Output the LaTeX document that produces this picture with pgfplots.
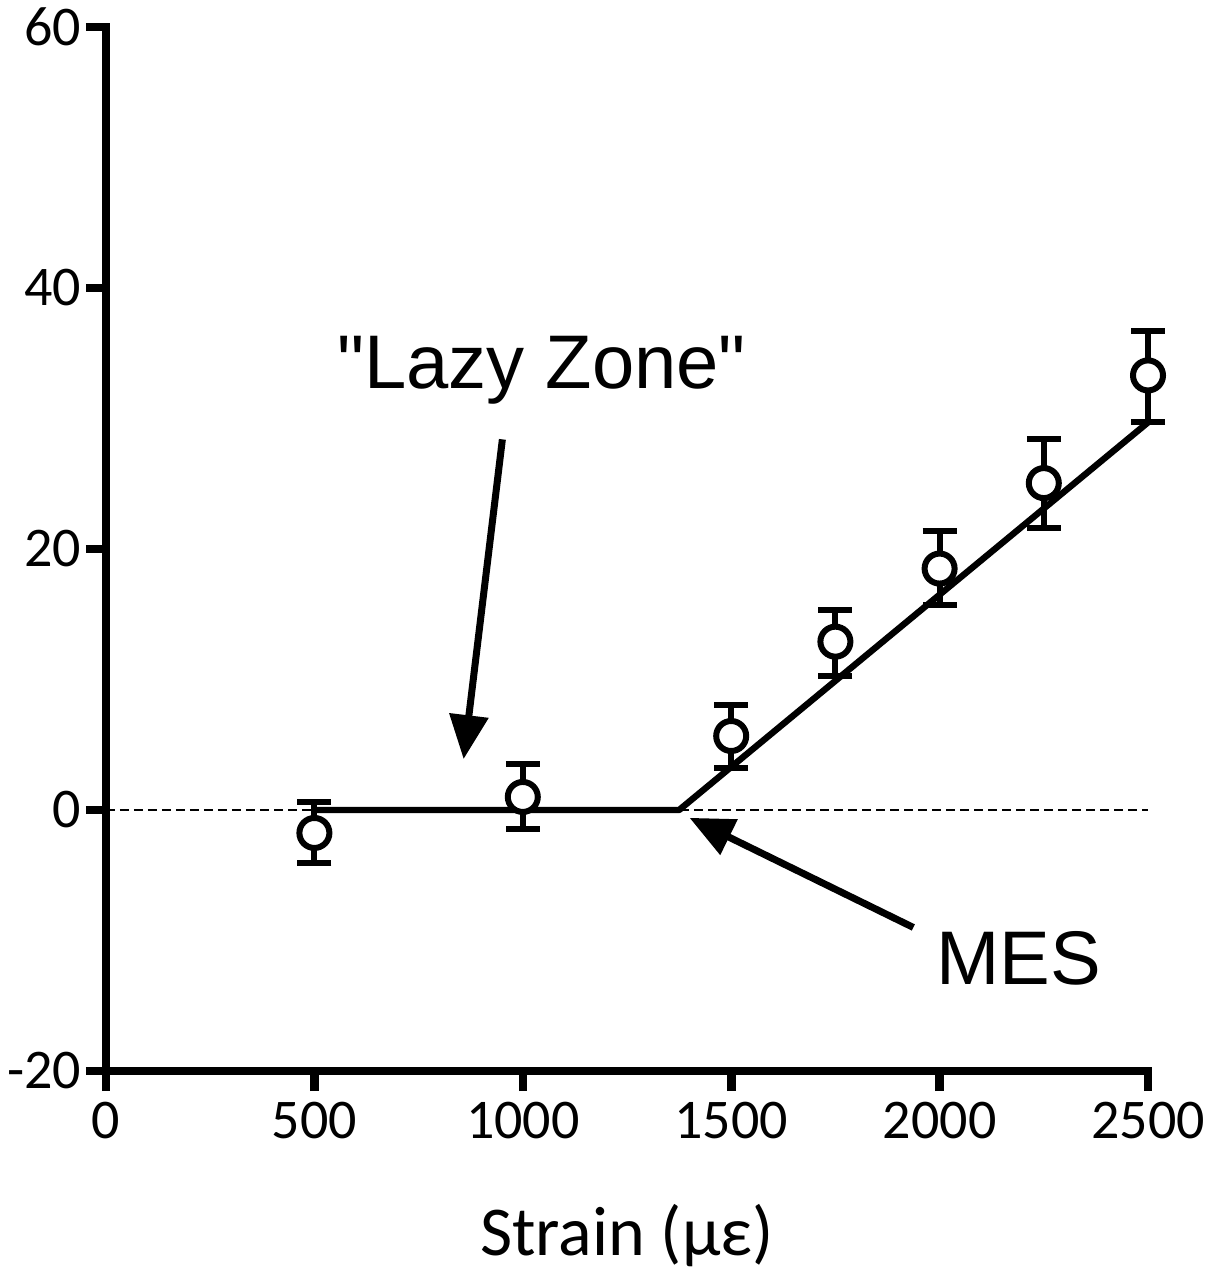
\documentclass[border=0pt]{standalone}
\usepackage{pgfplots}
\pgfplotsset{compat=1.18}
\usepackage{pgfplotstable}
\usepackage{fontspec}
\setmainfont{Carlito}
\newfontfamily\annfont{Liberation Sans}
\usetikzlibrary{arrows.meta}
\pgfplotstableread{
x     y      ep    em
500   -1.76  2.35  2.30
1000   1.00  2.50  2.46
1500   5.67  2.38  2.47
1750  12.90  2.40  2.60
2000  18.50  2.90  2.80
2250  25.05  3.35  3.45
2500  33.30  3.40  3.60
}\datatable
\begin{document}
\begin{tikzpicture}
\begin{axis}[
  at={(0,0)}, anchor=south west,
  scale only axis,
  width=521pt, height=522pt,
  xmin=0, xmax=2500, ymin=-20, ymax=60,
  axis lines=left,
  axis line style={line width=4.3pt, -, line cap=rect},
  xtick={0,500,1000,1500,2000,2500},
  ytick={-20,0,20,40,60},
  tick align=outside,
  major tick length=10pt,
  tick style={line width=4.3pt, black},
  /pgf/number format/assume math mode=true,
  /pgf/number format/set thousands separator={},
  tick label style={font=\fontsize{28}{30}\selectfont},
  xticklabel style={yshift=-2pt},
  yticklabel style={xshift=1pt},
  xlabel={Strain (με)},
  xlabel style={font=\fontsize{35}{38}\selectfont, at={(axis description cs:0.5,0)}, anchor=base, yshift=-92pt},
  clip=false,
]
% dashed zero line
\addplot[black, line width=1pt, dash pattern=on 4.5pt off 2.5pt] coordinates {(0,0) (2500,0)};
% segmental fit
\addplot[black, line width=3.2pt, line join=round] coordinates {(500,0) (1375,0) (2500,29.7)};
% error bars
\addplot[black, only marks, mark=none,
  error bars/.cd, y dir=both, y explicit,
  error bar style={line width=3pt},
  error mark options={rotate=90, mark size=8.5pt, line width=3pt}]
  table[x=x, y=y, y error plus=ep, y error minus=em] {\datatable};
% markers
\addplot[only marks, mark=*, mark size=7.5pt,
  mark options={line width=3pt, fill=white, draw=black}]
  table[x=x, y=y] {\datatable};
% annotations
\node[font=\annfont\fontsize{38}{40}\selectfont, anchor=base] at (axis cs:1045,32.3) {"Lazy Zone"};
\draw[line width=3.5pt, -{Triangle[length=22pt,width=19pt]}] (axis cs:951,28.4) -- (axis cs:858,3.9);
\node[font=\annfont\fontsize{38}{40}\selectfont, anchor=base] at (axis cs:2190,-13.4) {MES};
\draw[line width=3.5pt, -{Triangle[length=22pt,width=19pt]}] (axis cs:1937,-9.0) -- (axis cs:1400,-0.6);
\end{axis}
\pgfresetboundingbox
\useasboundingbox (-53pt,-101.5pt) rectangle (559.5pt,535.5pt);
\end{tikzpicture}
\end{document}
